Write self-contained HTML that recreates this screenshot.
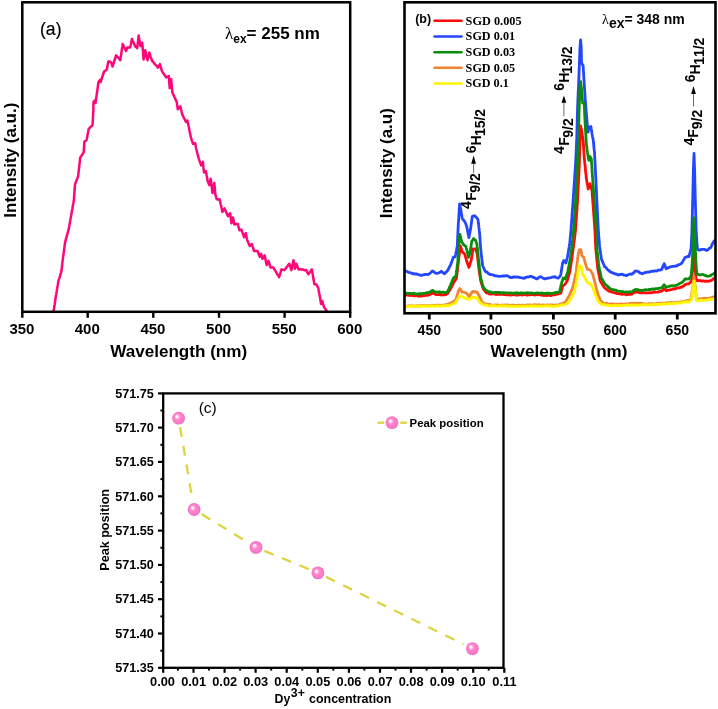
<!DOCTYPE html>
<html lang="en"><head><meta charset="utf-8"><title>Photoluminescence spectra</title>
<style>
html,body{margin:0;padding:0;background:#fff;}
body{width:718px;height:709px;overflow:hidden;}
svg{display:block;}
text{font-family:"Liberation Sans", sans-serif;fill:#000;}
.b{font-weight:bold;}
.nk{font-kerning:none;}
.serif{font-family:"Liberation Serif", serif;}
.ax{stroke:#000;fill:none;}
.crv{fill:none;stroke-linejoin:round;stroke-linecap:round;}
</style></head><body>
<svg width="718" height="709" viewBox="0 0 718 709">
<defs>
<radialGradient id="ball" cx="0.5" cy="0.5" r="0.5" fx="0.34" fy="0.34">
<stop offset="0" stop-color="#ffffff"/><stop offset="0.18" stop-color="#ffe9f6"/><stop offset="0.42" stop-color="#ff86cc"/><stop offset="0.8" stop-color="#fb7ac8"/><stop offset="1" stop-color="#e26cc0"/>
</radialGradient>
<clipPath id="clipA"><rect x="22.3" y="2.3" width="327.9" height="309.5"/></clipPath>
<clipPath id="clipB"><rect x="404.5" y="2.3" width="311" height="311"/></clipPath>
</defs>
<rect width="718" height="709" fill="#fff"/>
<g id="panelA">
<g clip-path="url(#clipA)"><polyline class="crv" stroke="#ff0579" stroke-width="2.5" points="53.6,311.6 53.8,310.2 54.0,308.7 54.2,307.3 54.4,305.9 54.7,304.5 54.9,303.0 55.1,301.6 55.3,300.2 55.5,298.7 55.7,297.3 55.9,295.8 56.2,294.4 56.4,292.9 56.7,291.4 56.9,289.9 57.2,288.5 57.4,287.0 57.7,285.5 57.9,284.0 58.2,282.6 58.4,281.1 58.8,279.7 59.3,278.3 59.7,276.9 60.1,275.6 60.5,274.2 61.0,272.8 61.4,271.4 61.6,270.0 61.7,268.6 61.9,267.2 62.0,265.8 62.2,264.4 62.3,263.0 62.5,261.6 62.7,260.1 62.9,258.6 63.1,257.1 63.3,255.6 63.5,254.1 63.7,252.6 63.9,251.2 64.1,249.7 64.3,248.2 64.5,246.7 64.7,245.2 64.9,243.7 65.1,242.2 65.5,240.8 65.9,239.3 66.3,237.9 66.7,236.4 67.1,235.0 67.5,233.5 67.9,232.1 68.3,230.6 68.7,229.2 69.0,227.7 69.2,226.3 69.5,224.8 69.8,223.3 70.0,221.8 70.3,220.4 70.5,218.9 70.8,217.4 71.1,215.9 71.3,214.5 71.6,213.0 71.9,211.6 72.1,210.1 72.4,208.7 72.6,207.2 72.9,205.8 73.1,204.3 73.4,202.9 73.6,201.4 73.9,200.0 74.0,198.6 74.1,197.2 74.2,195.8 74.3,194.4 74.4,193.0 74.5,191.6 74.6,190.2 74.7,188.8 74.8,187.4 74.9,186.0 75.0,184.6 75.5,183.2 76.0,181.8 76.5,180.4 77.1,179.0 77.6,177.6 78.1,176.2 78.3,174.8 78.4,173.4 78.6,172.0 78.7,170.5 78.9,169.1 79.1,167.7 79.2,166.3 79.4,164.9 79.6,163.5 79.7,162.0 79.9,160.6 80.0,159.2 80.2,157.8 81.1,156.4 82.0,155.0 82.8,153.6 83.7,152.2 83.8,150.7 83.9,149.2 84.0,147.7 84.1,146.1 84.2,144.6 84.3,143.1 84.4,141.6 86.5,140.2 86.8,138.8 87.0,137.4 87.3,136.0 87.6,134.6 87.9,133.1 88.2,131.7 88.4,130.3 88.7,128.9 90.0,127.6 91.2,126.3 92.5,125.4 92.6,123.9 92.7,122.4 92.8,120.9 92.9,119.4 92.9,118.0 93.0,116.5 93.1,115.0 93.2,113.5 93.3,112.0 93.3,110.5 93.4,109.1 93.4,107.6 93.4,106.2 93.4,104.7 93.5,103.3 93.5,101.8 94.9,100.4 95.5,103.0 95.7,101.6 95.9,100.2 96.1,98.8 96.3,97.4 96.5,96.0 96.7,94.6 96.9,93.2 97.1,91.8 97.3,90.4 97.5,89.0 97.7,87.6 97.9,86.2 98.1,84.8 98.3,83.4 98.5,82.0 99.9,80.0 100.6,82.0 101.1,80.5 101.6,79.0 102.1,77.5 102.6,76.0 103.1,74.5 103.6,73.0 104.1,71.5 105.5,70.6 106.9,69.4 107.2,67.8 107.5,66.3 107.7,64.7 108.0,63.2 108.3,61.6 109.8,61.6 111.2,62.3 111.7,63.7 112.1,65.1 112.6,66.5 113.0,65.1 113.5,63.7 113.9,62.3 114.3,60.9 114.8,59.5 115.2,58.1 115.7,56.7 116.1,55.3 117.1,56.6 118.2,57.6 119.2,58.6 120.3,60.2 120.5,58.7 120.7,57.3 121.0,55.8 121.2,54.3 121.4,52.8 121.6,51.4 121.8,49.9 122.0,48.4 122.3,46.9 122.5,45.5 122.7,44.0 123.4,45.4 124.0,46.8 124.7,48.2 125.3,49.6 126.0,51.0 126.7,49.2 127.4,47.5 130.2,47.5 130.5,46.1 130.8,44.7 131.1,43.2 131.3,41.8 131.6,40.4 131.9,39.0 132.5,40.4 133.2,41.8 133.8,43.3 134.5,44.7 135.1,46.1 136.1,47.2 137.2,48.2 137.4,46.8 137.5,45.4 137.7,44.0 137.9,42.6 138.0,41.1 138.2,39.7 138.4,38.3 138.5,36.9 138.7,35.5 138.9,37.0 139.2,38.5 139.4,40.0 139.7,41.6 139.9,43.1 140.2,44.6 140.4,46.1 141.3,44.4 142.2,42.6 142.3,44.0 142.4,45.4 142.5,46.8 142.7,48.2 142.8,49.6 142.9,51.0 143.0,52.5 143.1,53.9 143.2,55.3 143.4,56.7 143.5,58.1 143.6,59.5 143.9,58.0 144.2,56.4 144.4,54.9 144.7,53.4 145.0,51.8 145.3,50.3 145.6,51.7 145.9,53.1 146.2,54.5 146.6,56.0 146.9,57.4 147.2,58.8 147.5,60.2 147.8,58.6 148.2,57.1 148.5,55.5 148.9,54.0 149.2,52.4 149.7,53.8 150.2,55.2 150.6,56.6 151.1,58.1 151.6,59.5 152.1,60.9 153.1,61.7 154.2,63.4 155.4,64.7 156.6,65.8 157.8,67.6 158.9,65.8 159.9,64.1 160.3,65.5 160.7,66.9 161.2,68.4 161.6,69.8 162.0,71.2 162.8,72.5 163.7,73.7 164.5,75.0 165.4,76.2 166.2,77.5 167.5,76.4 168.8,76.1 168.9,77.6 169.0,79.1 169.1,80.6 169.2,82.1 169.4,83.6 169.5,85.1 169.6,86.6 169.7,88.1 169.9,86.6 170.2,85.0 170.4,83.5 170.7,82.0 170.9,80.4 171.2,78.9 171.3,80.4 171.4,81.9 171.6,83.4 171.7,84.9 171.8,86.3 171.9,87.8 172.1,89.3 172.2,90.8 172.3,92.3 172.9,93.7 173.6,95.1 174.2,96.5 174.9,98.0 175.5,99.4 176.2,100.8 176.8,102.2 177.0,103.6 177.2,105.0 177.4,106.4 177.6,107.8 177.8,109.2 179.1,107.7 180.3,106.4 180.7,107.8 181.0,109.2 181.4,110.7 181.7,112.1 182.1,113.5 182.4,114.9 183.1,116.3 183.8,117.7 184.6,119.1 185.3,120.5 186.0,121.9 187.4,120.5 187.7,121.9 188.0,123.3 188.3,124.7 188.6,126.1 188.9,127.5 189.2,128.9 189.4,130.4 189.7,131.8 190.0,133.2 190.3,134.6 190.6,136.0 190.9,137.4 191.4,139.0 191.9,140.6 192.5,142.2 193.0,143.8 195.1,143.1 195.4,144.5 195.7,145.9 195.9,147.2 196.2,148.6 196.5,150.0 196.9,151.4 197.2,152.8 197.6,154.2 198.0,155.5 198.4,156.9 198.7,158.3 199.1,159.7 199.6,161.1 200.1,162.6 200.7,164.0 201.2,165.4 202.1,163.7 202.9,161.9 203.1,163.4 203.2,164.9 203.4,166.4 203.5,167.9 203.7,169.4 203.8,170.9 204.0,172.4 205.9,171.0 206.1,172.4 206.4,173.8 206.6,175.2 206.9,176.7 207.1,178.1 207.4,179.5 207.6,180.9 208.2,182.3 208.7,183.7 209.3,185.1 209.7,183.5 210.0,181.9 210.3,180.4 210.7,178.8 210.9,180.2 211.1,181.6 211.2,183.0 211.4,184.4 211.6,185.9 211.8,187.3 212.0,188.7 212.1,190.1 212.3,191.5 212.5,192.9 212.8,191.5 213.0,190.1 213.3,188.7 213.5,187.2 213.8,185.8 214.0,184.4 214.3,183.0 214.4,184.4 214.6,185.8 214.7,187.2 214.8,188.7 214.9,190.1 215.1,191.5 215.2,192.9 215.3,194.3 215.8,195.9 216.2,197.6 216.7,199.2 218.1,199.5 219.6,199.2 219.9,200.6 220.2,202.0 220.5,203.4 220.8,204.8 221.2,206.3 221.5,207.7 221.8,209.1 222.1,210.5 222.4,211.9 223.4,210.2 224.5,208.4 225.1,209.7 225.7,211.0 226.2,212.3 226.8,213.6 227.4,214.9 228.0,216.2 229.1,214.8 230.1,213.3 230.3,214.7 230.5,216.1 230.7,217.5 230.9,219.0 231.1,220.4 231.3,221.8 231.5,223.2 231.9,221.8 232.2,220.4 232.6,219.0 233.0,217.6 233.3,219.0 233.6,220.4 233.8,221.8 234.1,223.2 234.4,224.6 236.2,223.9 237.9,223.9 238.2,225.5 238.6,227.1 239.0,228.7 239.3,230.3 241.4,229.6 242.0,231.1 242.5,232.7 243.1,234.2 243.6,235.8 244.2,237.3 244.8,235.9 245.3,234.5 245.9,233.1 246.1,234.5 246.4,235.9 246.6,237.2 246.9,238.6 247.1,240.0 247.7,241.2 248.4,242.8 249.1,244.5 249.8,246.1 250.9,244.8 251.9,244.0 252.3,245.4 252.7,246.8 253.2,248.2 253.6,249.6 254.0,251.0 255.8,251.1 257.6,251.0 258.1,252.4 258.6,253.8 259.2,255.3 259.7,256.7 260.4,255.3 261.1,253.9 261.6,255.5 262.0,257.2 262.5,258.8 263.6,257.1 264.6,255.3 264.9,256.7 265.2,258.1 265.5,259.5 265.8,260.9 266.1,262.3 266.4,263.7 266.7,265.1 267.3,263.7 268.0,262.3 268.6,260.9 269.0,262.5 269.5,264.0 269.9,265.6 270.3,267.2 271.7,267.6 273.1,267.2 274.0,268.6 274.9,270.0 275.7,271.5 276.6,272.9 277.4,274.3 278.3,275.7 279.1,277.1 279.6,275.6 280.1,274.0 280.5,272.5 281.0,270.9 281.5,269.4 282.9,269.8 284.4,270.1 285.3,268.9 286.3,267.7 287.2,266.5 288.2,265.1 289.3,263.7 289.8,265.3 290.4,266.9 290.9,268.5 291.4,270.1 291.7,268.7 292.0,267.3 292.3,265.9 292.6,264.4 292.9,263.0 293.2,261.6 293.5,260.2 293.7,261.6 294.0,263.0 294.2,264.4 294.4,265.9 294.7,267.3 294.9,268.7 295.4,267.0 295.9,265.4 296.4,263.7 296.9,265.1 297.4,266.5 298.0,268.0 298.5,269.4 300.6,269.3 302.7,269.4 304.4,270.2 306.2,270.1 306.9,271.5 307.6,272.9 308.3,274.3 309.2,273.1 310.1,271.9 311.0,270.6 311.9,269.4 312.1,270.9 312.4,272.4 312.6,273.8 312.9,275.3 313.1,276.8 313.4,278.3 313.6,279.8 313.9,281.2 314.1,282.7 314.4,284.2 316.1,284.2 317.1,285.9 318.2,287.7 318.5,289.1 318.7,290.5 319.0,291.9 319.2,293.4 319.5,294.8 319.8,296.2 320.0,297.6 320.3,299.0 320.5,300.6 320.8,302.3 321.0,303.9 321.7,302.5 322.4,301.1 322.8,302.5 323.1,304.0 323.5,305.4 323.9,306.8 324.8,308.2 325.8,309.6 326.7,311.0"/></g>
<rect class="ax" x="22.3" y="2.3" width="327.9" height="309.5" stroke-width="2.5"/>
<line class="ax" x1="22.3" y1="311.8" x2="22.3" y2="317.8" stroke-width="2.4"/>
<text class="b" x="21.9" y="334.3" font-size="15" text-anchor="middle">350</text>
<line class="ax" x1="87.7" y1="311.8" x2="87.7" y2="317.8" stroke-width="2.4"/>
<text class="b" x="87.3" y="334.3" font-size="15" text-anchor="middle">400</text>
<line class="ax" x1="153.3" y1="311.8" x2="153.3" y2="317.8" stroke-width="2.4"/>
<text class="b" x="152.9" y="334.3" font-size="15" text-anchor="middle">450</text>
<line class="ax" x1="219.0" y1="311.8" x2="219.0" y2="317.8" stroke-width="2.4"/>
<text class="b" x="218.6" y="334.3" font-size="15" text-anchor="middle">500</text>
<line class="ax" x1="284.6" y1="311.8" x2="284.6" y2="317.8" stroke-width="2.4"/>
<text class="b" x="284.2" y="334.3" font-size="15" text-anchor="middle">550</text>
<line class="ax" x1="350.2" y1="311.8" x2="350.2" y2="317.8" stroke-width="2.4"/>
<text class="b" x="349.8" y="334.3" font-size="15" text-anchor="middle">600</text>
<text class="b" x="178.7" y="357.2" font-size="17" text-anchor="middle" textLength="137" lengthAdjust="spacingAndGlyphs">Wavelength (nm)</text>
<text class="b" transform="translate(15.5,160.2) rotate(-90)" font-size="17" text-anchor="middle" textLength="115" lengthAdjust="spacingAndGlyphs">Intensity (a.u.)</text>
<text x="40" y="35.4" font-size="17.6" stroke="#000" stroke-width="0.15">(a)</text>
<text class="b" x="225.0" y="38.8" font-size="17"><tspan class="serif" font-weight="normal" font-size="17">λ</tspan><tspan font-size="12" dy="4">ex</tspan><tspan dy="-4">= 255 nm</tspan></text>
</g>
<g id="panelB">
<g clip-path="url(#clipB)">
<polyline class="crv" stroke="#ff0a0a" stroke-width="2.8" points="404.4,295.0 405.6,294.9 406.8,295.2 408.0,295.2 409.1,295.4 410.3,295.5 411.5,295.2 412.7,295.6 413.9,295.3 415.0,296.0 416.2,295.6 417.4,295.6 418.6,296.3 419.7,295.9 420.9,296.0 422.0,296.1 423.1,295.7 424.2,295.7 425.3,295.2 426.4,295.4 427.5,295.4 428.6,295.0 429.9,294.4 431.1,293.9 432.4,293.0 433.4,293.6 434.5,293.7 435.5,294.5 436.6,294.7 437.7,294.6 438.8,294.5 439.9,294.3 441.1,295.0 442.2,294.7 443.3,294.9 444.4,294.8 445.5,294.7 446.5,294.1 447.6,293.5 448.2,292.5 448.9,291.5 449.5,290.4 450.2,289.4 450.8,288.4 451.3,287.4 451.8,286.4 452.3,285.3 452.8,284.3 453.3,283.3 453.9,282.3 454.6,281.3 455.2,280.2 455.9,279.2 456.5,278.2 456.6,277.1 456.8,276.0 456.9,274.9 457.0,273.8 457.1,272.7 457.3,271.6 457.4,270.5 457.5,269.4 457.6,268.3 457.8,267.2 457.9,266.1 458.0,265.0 458.1,263.9 458.3,262.8 458.4,261.7 458.5,260.6 458.7,259.4 458.8,258.3 458.9,257.2 459.1,256.1 459.2,254.9 459.4,253.8 459.5,252.7 459.6,251.5 459.8,250.4 459.9,249.3 460.0,248.2 460.2,247.0 460.3,245.9 460.7,247.0 461.1,248.2 461.4,249.3 461.8,250.5 462.2,251.6 463.0,252.8 463.9,253.2 464.7,254.1 465.0,255.2 465.4,256.3 465.7,257.4 466.0,258.6 466.3,259.7 466.6,260.8 467.0,261.9 467.3,263.0 467.7,264.1 468.1,265.2 468.5,266.3 468.9,267.4 469.3,266.2 469.6,265.1 470.0,263.9 470.4,262.8 470.7,261.6 471.1,260.5 471.3,259.4 471.5,258.2 471.7,257.1 471.9,255.9 472.1,254.8 472.2,253.6 472.4,252.4 472.6,251.3 472.8,250.2 473.0,249.0 474.2,249.2 475.5,249.0 475.9,250.1 476.4,251.2 476.8,252.4 477.2,253.5 477.3,254.6 477.4,255.7 477.6,256.9 477.7,258.0 477.8,259.1 477.9,260.2 478.1,261.4 478.2,262.5 478.3,263.6 478.4,264.7 478.6,265.9 478.7,267.0 478.8,268.1 479.0,269.3 479.1,270.4 479.3,271.6 479.5,272.7 479.7,273.9 479.8,275.0 480.0,276.2 480.2,277.3 480.4,278.5 480.5,279.6 480.7,280.8 481.1,282.0 481.4,283.1 481.8,284.3 482.2,285.5 482.6,286.7 482.9,287.8 483.3,289.0 484.1,289.9 484.9,290.9 485.6,291.9 486.4,292.8 487.7,293.1 488.9,293.8 490.2,294.1 491.5,294.1 492.6,293.8 493.8,293.9 494.9,294.0 496.0,294.6 497.2,294.2 498.3,294.4 499.5,294.2 500.6,294.4 501.7,294.3 502.9,294.3 504.0,294.5 505.1,294.5 506.3,294.8 507.4,294.7 508.6,294.9 509.7,294.9 510.8,295.0 512.0,294.8 513.1,294.7 514.2,294.4 515.3,295.0 516.4,295.1 517.5,295.0 518.6,294.8 519.7,294.9 520.8,294.5 521.9,295.0 523.0,294.8 524.1,294.5 525.2,294.4 526.4,295.0 527.5,295.1 528.6,294.4 529.7,294.9 530.8,294.6 531.9,294.4 533.0,294.5 534.1,294.9 535.2,295.0 536.3,294.4 537.4,294.8 538.5,294.7 539.7,294.4 540.8,295.0 542.0,294.8 543.1,295.3 544.3,295.5 545.4,295.2 546.6,295.7 547.7,295.2 548.9,295.1 550.0,295.6 551.2,295.6 552.3,295.0 553.4,294.9 554.5,294.8 555.5,294.7 556.6,294.1 557.7,294.1 558.8,293.3 559.8,293.5 560.9,292.8 561.2,291.6 561.5,290.5 561.8,289.4 562.2,288.2 562.5,287.0 562.8,285.9 563.8,285.1 564.7,284.6 565.3,283.7 566.0,282.7 566.6,281.8 567.2,280.8 567.5,279.7 567.9,278.6 568.2,277.5 568.5,276.4 568.8,275.2 569.1,274.1 569.5,273.0 569.8,271.9 570.0,270.8 570.1,269.7 570.3,268.6 570.5,267.5 570.6,266.4 570.8,265.3 571.0,264.2 571.1,263.1 571.3,262.0 571.5,260.9 571.6,259.8 571.8,258.7 572.0,257.6 572.1,256.5 572.3,255.4 572.4,254.3 572.6,253.2 572.7,252.0 572.9,250.9 573.0,249.8 573.2,248.7 573.3,247.5 573.5,246.4 573.6,245.3 573.8,244.2 573.9,243.0 574.1,241.9 574.2,240.8 574.4,239.7 574.5,238.5 574.7,237.4 574.8,236.3 574.9,235.0 575.1,233.8 575.2,232.5 575.4,231.3 575.5,230.0 575.6,228.9 575.7,227.8 575.7,226.7 575.8,225.6 575.9,224.5 576.0,223.4 576.1,222.3 576.1,221.2 576.2,220.1 576.3,219.0 576.4,217.9 576.5,216.8 576.5,215.6 576.6,214.5 576.7,213.4 576.8,212.3 576.8,211.2 576.9,210.1 577.0,209.0 577.1,207.9 577.2,206.8 577.2,205.7 577.3,204.6 577.4,203.5 577.5,202.4 577.5,201.3 577.6,200.1 577.6,199.0 577.7,197.9 577.7,196.8 577.8,195.7 577.8,194.5 577.9,193.4 578.0,192.3 578.0,191.2 578.1,190.1 578.1,188.9 578.2,187.8 578.2,186.7 578.3,185.6 578.3,184.4 578.4,183.3 578.5,182.2 578.5,181.1 578.6,180.0 578.6,178.8 578.7,177.7 578.7,176.6 578.8,175.5 578.9,174.4 578.9,173.2 579.0,172.1 579.0,171.0 579.1,169.9 579.1,168.8 579.2,167.6 579.2,166.5 579.3,165.4 579.3,164.3 579.4,163.2 579.4,162.1 579.4,161.0 579.5,159.9 579.5,158.8 579.5,157.7 579.5,156.6 579.6,155.5 579.6,154.4 579.6,153.3 579.7,152.1 579.7,151.0 579.7,149.9 579.8,148.8 579.8,147.7 579.8,146.6 579.8,145.5 579.9,144.4 579.9,143.3 579.9,142.2 580.0,141.1 580.0,140.0 580.0,138.8 580.1,137.7 580.1,136.5 580.2,135.3 580.2,134.2 580.3,133.0 580.4,131.8 580.4,130.7 580.5,129.5 580.5,128.3 580.6,127.2 580.6,126.0 580.9,127.3 581.2,128.7 581.5,130.0 581.7,131.1 581.9,132.2 582.0,133.3 582.2,134.4 582.4,135.6 582.6,136.7 582.7,137.8 582.9,138.9 583.1,140.0 583.2,141.1 583.3,142.2 583.3,143.4 583.4,144.5 583.5,145.6 583.6,146.7 583.6,147.8 583.7,148.9 583.8,150.1 583.9,151.2 583.9,152.3 584.0,153.4 584.1,154.5 584.2,155.6 584.2,156.8 584.3,157.9 584.4,159.0 584.5,160.1 584.6,161.2 584.7,162.4 584.8,163.5 585.0,164.6 585.1,165.7 585.2,166.9 585.3,168.0 585.4,169.1 585.5,170.2 585.6,171.4 585.7,172.5 585.9,173.6 586.0,174.7 586.1,175.9 586.2,177.0 586.3,178.1 586.5,179.3 586.7,180.5 586.9,181.7 587.1,182.9 587.4,184.1 587.6,185.3 587.8,186.5 588.0,187.7 588.2,188.9 588.7,187.6 589.2,186.4 589.6,185.1 590.1,183.8 590.4,185.0 590.7,186.1 591.0,187.3 591.4,188.5 591.7,189.6 592.0,190.8 592.1,191.9 592.2,193.0 592.2,194.1 592.3,195.2 592.4,196.3 592.5,197.4 592.6,198.5 592.7,199.6 592.7,200.7 592.8,201.8 592.9,202.9 593.0,204.1 593.1,205.2 593.2,206.3 593.2,207.4 593.3,208.5 593.4,209.6 593.5,210.7 593.6,211.8 593.7,212.9 593.7,214.0 593.8,215.1 593.9,216.2 594.0,217.3 594.1,218.5 594.1,219.6 594.2,220.8 594.3,221.9 594.4,223.1 594.5,224.2 594.6,225.4 594.6,226.6 594.7,227.7 594.8,228.8 594.9,230.0 595.0,231.1 595.0,232.2 595.1,233.4 595.1,234.5 595.2,235.6 595.2,236.7 595.3,237.8 595.3,238.9 595.4,240.1 595.4,241.2 595.5,242.3 595.5,243.4 595.6,244.5 595.6,245.6 595.7,246.8 595.7,247.9 595.8,249.0 595.9,250.1 596.0,251.2 596.1,252.4 596.2,253.5 596.4,254.6 596.5,255.7 596.6,256.9 596.7,258.0 596.8,259.1 596.9,260.2 597.0,261.4 597.1,262.5 597.3,263.6 597.4,264.7 597.5,265.9 597.6,267.0 597.7,268.1 597.9,269.3 598.2,270.4 598.4,271.6 598.6,272.7 598.8,273.9 599.1,275.0 599.3,276.2 599.5,277.3 599.7,278.5 600.0,279.6 600.2,280.8 600.8,281.9 601.5,282.9 602.1,284.0 602.7,285.0 603.4,286.1 604.0,287.1 604.9,288.2 605.8,288.9 606.7,289.3 607.6,290.1 608.5,290.9 609.8,291.3 611.0,291.8 612.3,292.1 613.5,292.5 614.8,292.8 616.1,293.2 617.4,293.7 618.6,293.6 619.9,293.8 621.2,294.1 622.5,294.3 623.7,294.1 625.0,294.2 626.2,294.8 627.5,294.5 628.9,294.4 630.4,294.3 631.8,294.1 633.1,293.0 634.3,292.6 635.6,291.9 636.9,292.2 638.2,292.0 639.4,292.7 640.7,292.8 642.0,292.9 643.2,292.5 644.5,292.9 645.8,292.8 647.0,292.9 648.3,292.8 649.6,292.6 650.8,292.8 652.1,292.7 653.4,292.0 654.6,292.0 655.9,292.2 657.0,292.1 658.2,292.2 659.3,291.4 660.5,291.4 661.6,291.2 662.5,290.5 663.3,289.6 664.2,289.0 665.2,289.7 666.1,290.7 667.4,290.3 668.7,290.1 669.9,290.0 671.2,289.7 672.5,289.2 673.7,289.0 675.0,288.9 676.2,288.4 677.3,287.8 678.5,287.9 679.6,287.8 680.8,287.2 681.9,287.1 683.0,286.1 684.0,285.7 685.1,284.6 686.4,284.2 687.6,283.9 688.9,283.9 689.8,282.8 690.6,282.0 691.5,280.8 691.6,279.6 691.7,278.5 691.9,277.3 692.0,276.1 692.1,275.0 692.2,273.8 692.3,272.7 692.4,271.5 692.6,270.3 692.7,269.2 692.8,268.0 692.9,266.8 693.0,265.6 693.1,264.5 693.2,263.3 693.3,262.1 693.5,260.9 693.6,259.7 693.7,258.5 693.8,257.4 693.9,256.2 694.0,255.0 694.1,256.2 694.2,257.4 694.3,258.5 694.4,259.7 694.5,260.9 694.7,262.1 694.8,263.3 694.9,264.5 695.0,265.6 695.1,266.8 695.2,268.0 695.3,269.1 695.4,270.3 695.4,271.4 695.5,272.5 695.6,273.7 695.7,274.8 695.7,275.9 695.8,277.1 695.9,278.2 696.5,279.5 697.2,280.8 698.3,280.5 699.5,280.7 700.6,280.7 701.8,281.1 702.9,280.8 704.0,280.9 705.1,281.4 706.2,281.0 707.3,281.4 708.9,281.0 710.5,280.8 711.5,280.3 712.4,279.8 713.3,278.8 714.3,278.2 716.0,277.0"/>
<polyline class="crv" stroke="#2346ff" stroke-width="2.8" points="404.4,270.6 405.5,270.8 406.5,271.2 407.6,271.9 408.9,272.3 410.1,272.6 411.4,273.0 412.7,273.8 414.0,273.7 415.2,274.1 416.5,273.8 417.6,274.4 418.7,274.8 419.8,274.8 420.9,275.4 422.0,275.3 423.1,274.9 424.2,274.6 425.3,274.4 426.4,274.3 427.5,274.7 428.6,274.2 429.6,273.6 430.5,272.8 431.4,272.0 432.4,270.9 433.4,271.4 434.5,272.3 435.5,273.2 436.8,273.3 438.0,273.2 439.1,272.7 440.2,272.2 441.3,271.3 442.3,272.4 443.4,272.7 444.4,273.8 445.2,273.1 446.0,272.3 446.8,271.4 447.6,270.6 448.1,269.6 448.7,268.5 449.2,267.5 449.7,266.4 450.3,265.4 450.8,264.3 451.2,263.1 451.6,262.0 452.1,260.8 452.5,259.6 452.9,258.5 453.3,257.3 455.2,256.7 455.4,255.5 455.7,254.3 455.9,253.1 456.1,251.9 456.4,250.8 456.6,249.6 456.8,248.4 457.1,247.2 457.3,246.0 457.4,244.8 457.4,243.7 457.5,242.5 457.5,241.4 457.6,240.2 457.6,239.1 457.7,237.9 457.7,236.8 457.8,235.6 457.8,234.5 457.9,233.3 457.9,232.2 458.0,231.0 458.0,229.9 458.1,228.7 458.1,227.6 458.2,226.4 458.3,225.3 458.3,224.2 458.4,223.0 458.5,221.9 458.6,220.8 458.6,219.7 458.7,218.5 458.8,217.4 458.8,216.3 458.9,215.2 459.0,214.0 459.0,212.9 459.1,211.8 459.2,210.7 459.2,209.5 459.3,208.4 459.4,207.3 459.5,206.2 459.5,205.0 459.6,203.9 459.8,205.0 460.1,206.1 460.3,207.2 460.5,208.4 460.8,209.5 461.0,210.6 461.2,211.7 461.3,212.9 461.5,214.0 461.7,215.1 461.9,216.2 462.0,217.4 462.2,218.5 462.9,219.3 463.6,220.2 464.3,221.1 465.0,221.9 465.4,223.0 465.9,224.2 466.3,225.3 466.7,226.4 466.9,227.5 467.1,228.7 467.4,229.8 467.6,230.9 467.8,232.1 468.0,233.2 468.2,234.3 468.5,235.4 468.7,236.6 468.9,237.7 469.1,236.6 469.3,235.4 469.5,234.3 469.8,233.2 470.0,232.1 470.2,230.9 470.4,229.8 470.6,228.7 470.8,227.6 470.9,226.4 471.1,225.3 471.2,224.2 471.4,223.1 471.5,221.9 471.7,220.8 471.8,219.7 472.0,218.6 472.1,217.4 472.3,216.3 473.7,215.9 475.1,216.0 475.8,216.9 476.6,217.8 477.3,218.7 478.0,219.6 478.1,220.7 478.3,221.9 478.4,223.0 478.5,224.1 478.7,225.3 478.8,226.4 478.9,227.5 479.1,228.7 479.2,229.8 479.3,230.9 479.5,232.1 479.6,233.2 479.7,234.3 479.8,235.5 479.8,236.6 479.9,237.7 480.0,238.8 480.1,240.0 480.1,241.1 480.2,242.2 480.3,243.4 480.4,244.5 480.5,245.6 480.5,246.7 480.6,247.9 480.7,249.0 480.8,250.1 481.0,251.2 481.1,252.3 481.2,253.4 481.3,254.5 481.5,255.6 481.6,256.7 481.7,257.8 481.8,258.9 482.0,260.0 482.1,261.1 482.2,262.2 482.3,263.3 482.5,264.4 482.6,265.5 483.1,266.7 483.6,267.8 484.2,269.0 484.7,270.1 485.2,271.3 486.1,271.9 487.1,272.2 488.1,273.5 489.0,273.8 490.2,274.5 491.5,274.6 492.8,274.8 494.0,275.4 495.3,275.9 496.6,275.8 497.8,276.2 499.1,276.4 500.4,276.3 501.7,276.2 502.9,276.0 504.2,276.0 505.4,275.8 506.7,275.7 508.0,276.1 509.2,276.8 510.5,277.6 511.8,277.7 513.1,277.0 514.3,276.9 515.6,277.2 516.9,277.0 518.2,277.1 519.4,277.5 520.7,277.7 521.9,277.8 523.2,278.2 524.3,278.3 525.4,277.4 526.5,277.3 527.6,276.9 528.7,276.9 529.8,276.4 530.9,276.3 532.0,276.6 533.0,277.4 534.0,277.5 535.1,278.1 536.2,278.8 537.2,278.9 538.3,277.9 539.3,277.1 540.4,276.7 541.5,277.0 542.6,278.0 543.7,278.4 544.8,278.9 546.1,278.4 547.4,278.3 548.6,277.9 549.9,277.8 551.2,277.6 552.5,277.0 553.7,277.1 555.0,276.7 556.0,277.5 557.1,278.0 558.1,278.2 559.0,277.3 559.8,276.5 560.7,275.1 560.9,274.0 561.0,272.9 561.2,271.8 561.4,270.7 561.6,269.6 561.7,268.5 561.9,267.4 562.1,266.3 562.3,265.2 562.4,264.1 562.6,263.0 563.2,261.8 563.9,260.5 564.9,261.8 565.9,263.0 566.2,261.9 566.4,260.8 566.7,259.7 567.0,258.7 567.3,257.6 567.5,256.5 567.8,255.4 568.0,254.2 568.2,253.1 568.3,251.9 568.5,250.8 568.7,249.6 568.9,248.5 569.1,247.3 569.3,246.2 569.4,245.0 569.6,243.9 569.8,242.7 569.9,241.5 570.0,240.4 570.1,239.2 570.2,238.1 570.3,236.9 570.5,235.8 570.6,234.6 570.7,233.5 570.8,232.3 570.9,231.2 571.0,230.0 571.1,228.9 571.2,227.8 571.2,226.7 571.3,225.6 571.4,224.5 571.5,223.4 571.6,222.3 571.6,221.2 571.7,220.1 571.8,219.0 571.9,217.9 572.0,216.8 572.0,215.6 572.1,214.5 572.2,213.4 572.3,212.3 572.3,211.2 572.4,210.1 572.5,209.0 572.6,207.9 572.7,206.8 572.7,205.7 572.8,204.6 572.9,203.5 573.0,202.4 573.1,201.3 573.1,200.1 573.2,199.0 573.3,197.9 573.4,196.8 573.4,195.7 573.5,194.5 573.6,193.4 573.7,192.3 573.7,191.2 573.8,190.1 573.9,188.9 574.0,187.8 574.0,186.7 574.1,185.6 574.2,184.4 574.3,183.3 574.4,182.2 574.4,181.1 574.5,180.0 574.6,178.8 574.7,177.7 574.7,176.6 574.8,175.5 574.9,174.4 575.0,173.2 575.0,172.1 575.1,171.0 575.2,169.9 575.3,168.8 575.3,167.6 575.4,166.5 575.5,165.4 575.6,164.3 575.6,163.2 575.7,162.1 575.7,161.0 575.8,159.9 575.8,158.8 575.9,157.7 575.9,156.6 576.0,155.5 576.0,154.4 576.1,153.3 576.1,152.1 576.2,151.0 576.2,149.9 576.3,148.8 576.3,147.7 576.4,146.6 576.4,145.5 576.5,144.4 576.5,143.3 576.6,142.2 576.6,141.1 576.7,140.0 576.7,138.9 576.8,137.8 576.8,136.7 576.8,135.6 576.9,134.4 576.9,133.3 576.9,132.2 576.9,131.1 577.0,130.0 577.0,128.9 577.0,127.8 577.1,126.7 577.1,125.5 577.1,124.4 577.2,123.3 577.2,122.2 577.2,121.1 577.3,120.0 577.3,118.9 577.3,117.8 577.3,116.7 577.4,115.5 577.4,114.4 577.4,113.3 577.5,112.2 577.5,111.1 577.5,110.0 577.6,108.9 577.6,107.8 577.6,106.7 577.7,105.6 577.7,104.5 577.8,103.4 577.8,102.3 577.8,101.2 577.9,100.1 577.9,99.0 578.0,97.8 578.0,96.7 578.1,95.5 578.1,94.3 578.2,93.2 578.2,92.0 578.3,90.8 578.4,89.7 578.4,88.5 578.5,87.3 578.5,86.2 578.6,85.0 578.6,83.9 578.7,82.8 578.7,81.7 578.8,80.5 578.8,79.4 578.9,78.3 578.9,77.2 578.9,76.1 579.0,75.0 579.0,73.8 579.1,72.7 579.1,71.6 579.1,70.5 579.2,69.4 579.2,68.3 579.3,67.1 579.3,66.0 579.4,64.9 579.4,63.8 579.4,62.7 579.5,61.5 579.5,60.4 579.6,59.3 579.6,58.2 579.6,57.0 579.7,55.9 579.7,54.8 579.8,53.7 579.8,52.5 579.8,51.4 579.9,50.3 579.9,49.2 580.0,48.0 580.0,46.9 580.1,45.7 580.2,44.6 580.3,43.4 580.4,42.2 580.5,41.1 580.6,39.9 580.7,41.1 580.8,42.2 580.9,43.4 581.0,44.6 581.1,45.7 581.2,46.9 581.2,48.0 581.2,49.1 581.3,50.2 581.3,51.4 581.3,52.5 581.3,53.6 581.4,54.7 581.4,55.8 581.4,56.9 581.4,58.0 581.4,59.2 581.5,60.3 581.5,61.4 581.5,62.5 582.0,63.6 582.6,64.7 583.1,65.8 583.2,67.0 583.3,68.3 583.3,69.5 583.4,70.8 583.5,72.0 583.6,73.2 583.6,74.4 583.7,75.5 583.8,76.7 583.9,77.9 583.9,79.1 584.0,80.3 584.1,81.5 584.2,82.6 584.2,83.8 584.3,85.0 584.4,86.2 584.4,87.3 584.5,88.5 584.6,89.7 584.7,90.8 584.8,92.0 584.8,93.2 584.9,94.3 585.0,95.5 585.1,96.7 585.1,97.8 585.2,99.0 585.3,100.2 585.4,101.3 585.5,102.5 585.6,103.7 585.7,104.8 585.8,106.0 585.8,107.2 585.9,108.3 586.0,109.5 586.1,110.7 586.2,111.8 586.3,113.0 586.4,114.1 586.5,115.3 586.6,116.4 586.7,117.5 586.8,118.6 586.9,119.8 587.0,120.9 587.1,122.0 587.2,123.2 587.3,124.3 587.4,125.4 587.5,126.6 587.6,127.7 587.7,128.8 587.8,129.9 587.9,131.1 588.0,132.2 588.3,131.0 588.5,129.8 588.8,128.5 589.1,127.3 590.9,126.5 591.1,127.6 591.2,128.7 591.4,129.8 591.6,130.9 591.8,132.1 591.9,133.2 592.1,134.3 592.3,135.4 592.5,136.6 592.8,137.7 593.0,138.8 593.2,140.0 593.3,141.2 593.4,142.3 593.6,143.5 593.7,144.6 593.8,145.8 593.9,146.9 594.0,148.1 594.1,149.2 594.3,150.4 594.4,151.5 594.5,152.7 594.6,153.8 594.6,154.9 594.7,156.0 594.7,157.1 594.8,158.2 594.8,159.3 594.9,160.4 595.0,161.5 595.0,162.6 595.1,163.7 595.1,164.8 595.2,166.0 595.2,167.1 595.3,168.2 595.3,169.3 595.4,170.4 595.5,171.5 595.5,172.6 595.6,173.7 595.6,174.8 595.7,175.9 595.7,177.0 595.8,178.1 595.9,179.2 595.9,180.3 596.0,181.4 596.0,182.5 596.1,183.6 596.1,184.7 596.2,185.8 596.2,186.9 596.3,188.0 596.3,189.1 596.4,190.2 596.4,191.4 596.5,192.5 596.5,193.6 596.6,194.7 596.6,195.8 596.7,196.9 596.7,198.0 596.8,199.1 596.8,200.2 596.9,201.3 596.9,202.4 597.0,203.5 597.1,204.6 597.1,205.7 597.2,206.8 597.2,207.9 597.3,209.0 597.3,210.1 597.4,211.2 597.4,212.3 597.5,213.4 597.5,214.5 597.6,215.6 597.6,216.8 597.7,217.9 597.8,219.0 597.8,220.1 597.9,221.2 597.9,222.3 598.0,223.4 598.0,224.5 598.1,225.6 598.1,226.7 598.2,227.8 598.2,228.9 598.3,230.0 598.4,231.1 598.5,232.2 598.6,233.3 598.6,234.4 598.7,235.5 598.8,236.6 598.9,237.7 599.0,238.8 599.1,239.9 599.2,241.0 599.3,242.1 599.3,243.2 599.4,244.3 599.5,245.4 599.6,246.5 599.8,247.7 599.9,248.8 600.1,250.0 600.3,251.1 600.5,252.3 600.6,253.4 600.8,254.6 601.0,255.7 601.2,256.9 601.3,258.0 601.5,259.2 602.0,260.3 602.4,261.4 602.9,262.5 603.3,263.5 603.8,264.6 604.2,265.7 604.7,266.8 605.5,267.2 606.4,268.1 607.2,269.4 608.0,270.0 608.9,270.5 609.7,271.3 610.7,272.1 611.7,272.4 612.8,273.0 613.8,273.1 614.8,273.8 616.1,274.0 617.3,274.6 618.6,275.1 619.9,274.5 621.1,274.4 622.4,274.2 623.7,275.1 624.9,275.1 626.2,275.7 628.0,274.7 629.3,274.2 630.5,274.2 631.8,274.4 632.8,273.3 633.7,272.9 634.6,271.7 635.6,270.9 636.7,271.1 637.7,271.3 638.8,271.9 639.9,272.9 640.9,273.1 642.0,273.8 643.3,273.2 644.5,272.8 645.8,272.4 647.0,272.2 648.3,272.1 649.6,272.0 650.8,271.4 652.1,271.2 653.4,271.3 654.6,270.9 655.9,270.9 657.0,271.0 658.2,270.1 659.3,270.1 660.5,270.1 661.6,269.6 662.1,268.4 662.6,267.2 663.2,266.0 663.7,264.8 664.2,263.6 664.7,264.9 665.2,266.1 665.6,267.4 666.1,268.7 667.4,268.0 668.6,267.8 669.9,266.8 671.2,266.7 672.4,266.4 673.7,266.4 674.9,266.0 676.2,266.2 677.3,265.5 678.5,264.7 679.6,264.6 680.8,263.9 681.9,263.0 682.5,261.9 683.2,260.7 683.8,259.6 684.5,258.4 685.1,257.3 686.4,257.1 687.6,256.5 688.9,256.7 689.2,255.6 689.5,254.5 689.8,253.4 690.1,252.3 690.4,251.2 690.7,250.1 691.0,249.0 691.1,247.8 691.1,246.7 691.2,245.5 691.3,244.3 691.3,243.2 691.4,242.0 691.5,240.8 691.5,239.7 691.6,238.5 691.7,237.3 691.7,236.2 691.8,235.0 691.8,233.9 691.9,232.7 691.9,231.6 691.9,230.5 691.9,229.4 692.0,228.2 692.0,227.1 692.0,226.0 692.1,224.8 692.1,223.7 692.1,222.6 692.1,221.5 692.2,220.3 692.2,219.2 692.2,218.1 692.3,216.9 692.3,215.8 692.3,214.7 692.4,213.5 692.4,212.4 692.4,211.3 692.4,210.2 692.5,209.0 692.5,207.9 692.5,206.8 692.6,205.6 692.6,204.5 692.6,203.4 692.6,202.3 692.7,201.1 692.7,200.0 692.7,198.9 692.8,197.8 692.8,196.7 692.8,195.6 692.8,194.4 692.9,193.3 692.9,192.2 692.9,191.1 692.9,190.0 693.0,188.9 693.0,187.8 693.0,186.7 693.0,185.6 693.1,184.4 693.1,183.3 693.1,182.2 693.1,181.1 693.2,180.0 693.2,178.9 693.2,177.8 693.2,176.7 693.3,175.6 693.3,174.4 693.3,173.3 693.3,172.2 693.4,171.1 693.4,170.0 693.4,168.9 693.5,167.8 693.5,166.7 693.6,165.6 693.6,164.5 693.6,163.4 693.7,162.3 693.7,161.2 693.8,160.1 693.8,159.0 693.8,157.9 693.9,156.8 693.9,155.7 694.0,154.6 694.0,153.5 694.0,154.6 694.1,155.7 694.1,156.8 694.2,157.9 694.2,159.0 694.2,160.1 694.3,161.2 694.3,162.3 694.4,163.4 694.4,164.5 694.4,165.6 694.5,166.7 694.5,167.8 694.6,168.9 694.6,170.0 694.6,171.1 694.7,172.2 694.7,173.3 694.7,174.4 694.7,175.6 694.8,176.7 694.8,177.8 694.8,178.9 694.8,180.0 694.9,181.1 694.9,182.2 694.9,183.3 694.9,184.4 695.0,185.6 695.0,186.7 695.0,187.8 695.0,188.9 695.1,190.0 695.1,191.1 695.1,192.2 695.1,193.3 695.2,194.4 695.2,195.6 695.2,196.7 695.2,197.8 695.3,198.9 695.3,200.0 695.3,201.1 695.4,202.2 695.4,203.3 695.4,204.4 695.5,205.5 695.5,206.6 695.5,207.7 695.5,208.8 695.6,209.9 695.6,211.0 695.6,212.1 695.7,213.2 695.7,214.3 695.7,215.4 695.8,216.6 695.8,217.7 695.8,218.8 695.9,219.9 695.9,221.0 695.9,222.1 696.0,223.2 696.0,224.3 696.0,225.4 696.0,226.5 696.1,227.6 696.1,228.7 696.1,229.8 696.2,230.9 696.2,232.0 696.3,233.1 696.4,234.3 696.4,235.4 696.5,236.5 696.6,237.7 696.7,238.8 696.8,239.9 696.8,241.1 696.9,242.2 697.0,243.3 697.1,244.5 697.2,245.6 697.2,246.7 697.3,247.9 697.4,249.0 699.1,250.3 700.4,249.8 701.6,249.4 702.9,249.3 704.0,249.3 705.1,249.6 706.2,250.3 707.3,250.3 708.4,249.2 709.4,248.3 710.5,247.8 711.0,246.8 711.5,245.8 712.0,244.7 712.5,243.7 713.0,242.7 713.6,241.8 714.3,240.8 716.0,239.5"/>
<polyline class="crv" stroke="#0b8c0b" stroke-width="2.8" points="404.4,292.8 405.6,293.0 406.8,293.2 408.0,293.3 409.1,293.5 410.3,293.5 411.5,293.7 412.7,293.5 413.9,293.2 415.0,293.6 416.2,294.0 417.4,293.8 418.6,294.0 419.7,293.5 420.9,293.8 422.0,293.6 423.1,293.3 424.2,293.4 425.3,293.3 426.4,292.7 427.5,292.7 428.6,292.8 429.6,292.0 430.5,291.9 431.4,291.1 432.4,290.3 433.4,290.7 434.5,291.8 435.5,292.2 436.6,292.0 437.7,292.4 438.8,292.0 439.9,292.0 441.1,292.7 442.2,292.2 443.3,292.2 444.4,292.5 445.5,292.6 446.5,292.2 447.6,291.6 448.1,290.4 448.7,289.3 449.2,288.1 449.7,286.9 450.3,285.8 450.8,284.6 451.2,283.5 451.6,282.5 452.1,281.4 452.5,280.3 452.9,279.3 453.3,278.2 454.2,277.2 455.0,276.9 455.9,275.7 456.1,274.5 456.2,273.4 456.4,272.2 456.5,271.0 456.7,269.9 456.9,268.7 457.0,267.5 457.2,266.4 457.3,265.2 457.5,264.0 457.6,262.9 457.8,261.7 457.9,260.6 457.9,259.5 458.0,258.3 458.1,257.2 458.2,256.1 458.2,255.0 458.3,253.9 458.4,252.8 458.4,251.6 458.5,250.5 458.6,249.4 458.6,248.3 458.7,247.2 458.8,246.1 458.9,244.9 458.9,243.8 459.0,242.7 459.1,241.5 459.3,240.3 459.4,239.1 459.5,238.0 459.6,236.8 459.8,235.6 459.9,234.4 460.2,235.6 460.5,236.7 460.8,237.9 461.0,239.1 461.3,240.2 461.6,241.4 462.2,242.5 462.9,243.5 463.5,244.6 464.8,245.6 466.0,246.5 466.2,247.6 466.5,248.7 466.8,249.7 467.0,250.8 467.2,251.9 467.5,253.0 467.8,254.1 468.0,255.1 468.2,256.2 468.5,257.3 468.8,256.1 469.2,255.0 469.5,253.8 469.8,252.6 470.2,251.5 470.5,250.3 470.6,249.2 470.8,248.1 470.9,247.0 471.1,245.9 471.2,244.7 471.4,243.6 471.6,242.5 471.7,241.4 472.3,240.5 473.0,239.5 473.6,238.6 474.6,239.5 475.5,240.2 476.0,241.5 476.4,242.7 476.9,244.0 477.0,245.1 477.1,246.2 477.3,247.3 477.4,248.4 477.5,249.5 477.6,250.6 477.7,251.7 477.9,252.8 478.0,254.0 478.1,255.1 478.2,256.2 478.3,257.3 478.4,258.4 478.6,259.5 478.7,260.6 478.8,261.7 478.9,262.8 479.1,263.9 479.2,265.0 479.3,266.1 479.4,267.2 479.6,268.3 479.7,269.4 479.8,270.5 479.9,271.6 480.1,272.7 480.2,273.8 480.3,274.9 480.4,276.0 480.6,277.1 480.7,278.2 481.0,279.3 481.4,280.4 481.7,281.5 482.0,282.6 482.3,283.8 482.6,284.9 483.0,286.0 483.3,287.1 484.1,288.1 484.9,289.0 485.6,289.9 486.4,290.9 487.7,291.0 488.9,291.9 490.2,292.0 491.5,292.2 492.6,292.6 493.7,292.6 494.8,292.3 495.9,292.4 497.1,292.3 498.2,292.4 499.3,292.4 500.4,292.8 501.6,292.7 502.7,292.9 503.9,292.5 505.0,293.0 506.2,292.8 507.3,292.8 508.5,293.2 509.6,293.0 510.8,292.9 511.9,293.1 513.1,293.1 514.3,293.3 515.4,292.8 516.6,293.5 517.7,292.7 518.9,293.3 520.0,293.4 521.2,292.7 522.3,293.3 523.5,293.0 524.6,293.2 525.8,293.1 527.0,292.7 528.1,292.8 529.3,292.9 530.4,293.4 531.6,292.9 532.7,293.3 533.9,293.4 535.0,293.4 536.2,293.0 537.3,293.0 538.5,293.1 539.7,293.2 540.8,293.4 542.0,292.9 543.1,293.4 544.3,293.5 545.4,293.6 546.6,293.0 547.7,293.7 548.9,293.1 550.0,293.3 551.2,293.5 552.5,293.3 553.7,293.3 555.0,292.6 556.2,292.5 557.3,292.5 558.5,291.9 559.6,291.6 559.9,290.5 560.1,289.5 560.4,288.4 560.6,287.3 560.9,286.2 561.1,285.1 561.4,284.1 561.6,283.0 562.0,281.8 562.4,280.5 562.8,279.2 563.2,278.0 564.2,278.4 565.2,279.0 565.6,277.8 566.1,276.6 566.5,275.4 566.9,274.3 567.4,273.1 567.8,271.9 568.0,270.7 568.2,269.6 568.4,268.4 568.7,267.2 568.9,266.1 569.1,264.9 569.3,263.7 569.5,262.6 569.8,261.4 570.0,260.2 570.2,259.1 570.4,257.9 570.5,256.7 570.7,255.6 570.8,254.4 571.0,253.2 571.1,252.1 571.3,250.9 571.4,249.7 571.6,248.5 571.7,247.4 571.9,246.2 572.0,245.0 572.2,243.9 572.3,242.7 572.4,241.5 572.5,240.4 572.7,239.2 572.8,238.1 572.9,236.9 573.0,235.8 573.1,234.6 573.2,233.5 573.4,232.3 573.5,231.2 573.6,230.0 573.7,228.9 573.8,227.8 573.8,226.7 573.9,225.6 574.0,224.5 574.1,223.4 574.2,222.3 574.2,221.2 574.3,220.1 574.4,219.0 574.5,217.9 574.5,216.8 574.6,215.6 574.7,214.5 574.8,213.4 574.9,212.3 574.9,211.2 575.0,210.1 575.1,209.0 575.2,207.9 575.3,206.8 575.3,205.7 575.4,204.6 575.5,203.5 575.6,202.4 575.6,201.3 575.7,200.1 575.7,199.0 575.8,197.9 575.8,196.8 575.9,195.7 575.9,194.5 576.0,193.4 576.1,192.3 576.1,191.2 576.2,190.1 576.2,188.9 576.3,187.8 576.3,186.7 576.4,185.6 576.5,184.4 576.5,183.3 576.6,182.2 576.6,181.1 576.7,180.0 576.7,178.8 576.8,177.7 576.8,176.6 576.9,175.5 577.0,174.4 577.0,173.2 577.1,172.1 577.1,171.0 577.2,169.9 577.2,168.8 577.3,167.6 577.3,166.5 577.4,165.4 577.4,164.3 577.5,163.2 577.5,162.1 577.6,161.0 577.6,159.9 577.6,158.8 577.7,157.7 577.7,156.6 577.8,155.5 577.8,154.4 577.8,153.3 577.9,152.1 577.9,151.0 577.9,149.9 578.0,148.8 578.0,147.7 578.1,146.6 578.1,145.5 578.1,144.4 578.2,143.3 578.2,142.2 578.3,141.1 578.3,140.0 578.3,138.9 578.4,137.8 578.4,136.7 578.4,135.6 578.5,134.4 578.5,133.3 578.5,132.2 578.5,131.1 578.6,130.0 578.6,128.9 578.6,127.8 578.7,126.7 578.7,125.5 578.7,124.4 578.8,123.3 578.8,122.2 578.8,121.1 578.9,120.0 578.9,118.9 578.9,117.8 578.9,116.7 579.0,115.5 579.0,114.4 579.0,113.3 579.1,112.2 579.1,111.1 579.1,110.0 579.2,108.9 579.2,107.8 579.2,106.7 579.3,105.6 579.3,104.5 579.4,103.4 579.4,102.3 579.4,101.2 579.5,100.1 579.5,98.9 579.5,97.8 579.6,96.7 579.6,95.6 579.6,94.5 579.7,93.4 579.7,92.3 579.8,91.2 579.8,90.1 579.8,89.0 579.9,87.9 579.9,86.8 580.1,85.5 580.2,84.2 580.4,82.9 580.6,81.6 580.8,82.9 580.9,84.2 581.1,85.4 581.2,86.7 581.4,88.0 581.5,89.2 581.6,90.3 581.7,91.5 581.8,92.6 581.9,93.8 582.0,94.9 582.1,96.0 582.2,97.2 582.3,98.3 582.3,99.4 582.4,100.5 582.5,101.7 582.6,102.8 584.3,103.8 584.3,104.9 584.4,106.0 584.4,107.1 584.5,108.2 584.5,109.3 584.6,110.4 584.6,111.5 584.6,112.6 584.7,113.7 584.7,114.8 584.8,115.9 584.8,117.0 584.9,118.1 584.9,119.2 585.0,120.3 585.0,121.4 585.1,122.5 585.2,123.6 585.2,124.7 585.3,125.8 585.3,126.9 585.4,128.0 585.5,129.1 585.5,130.2 585.6,131.3 585.7,132.5 585.7,133.6 585.8,134.7 585.9,135.8 585.9,136.9 586.0,138.0 586.0,139.1 586.1,140.2 586.2,141.3 586.2,142.4 586.3,143.5 586.4,144.7 586.6,145.8 586.8,146.9 586.9,148.1 587.0,149.2 587.2,150.4 587.4,151.5 587.5,152.7 587.7,153.8 587.9,154.9 588.1,156.0 588.2,157.0 588.4,158.1 588.6,159.2 588.8,160.3 589.2,159.0 589.7,157.8 590.1,156.5 590.7,157.8 591.3,159.0 591.4,160.1 591.5,161.2 591.5,162.4 591.6,163.5 591.7,164.6 591.8,165.7 591.8,166.9 591.9,168.0 592.0,169.1 592.1,170.2 592.1,171.4 592.2,172.5 592.3,173.6 592.4,174.7 592.4,175.9 592.5,177.0 592.6,178.1 592.7,179.2 592.8,180.3 592.8,181.4 592.9,182.5 593.0,183.6 593.1,184.7 593.2,185.8 593.3,186.9 593.3,188.0 593.4,189.1 593.5,190.2 593.6,191.4 593.7,192.5 593.8,193.6 593.8,194.7 593.9,195.8 594.0,196.9 594.1,198.0 594.2,199.1 594.3,200.2 594.3,201.3 594.4,202.4 594.5,203.5 594.6,204.6 594.7,205.7 594.7,206.8 594.8,207.9 594.9,209.0 595.0,210.1 595.1,211.2 595.1,212.3 595.2,213.4 595.3,214.5 595.4,215.6 595.5,216.8 595.5,217.9 595.6,219.0 595.7,220.1 595.8,221.2 595.8,222.3 595.9,223.4 596.0,224.5 596.1,225.6 596.2,226.7 596.2,227.8 596.3,228.9 596.4,230.0 596.4,231.1 596.5,232.2 596.5,233.4 596.5,234.5 596.6,235.6 596.6,236.7 596.6,237.8 596.7,238.9 596.7,240.1 596.8,241.2 596.8,242.3 596.8,243.4 596.9,244.5 596.9,245.6 596.9,246.8 597.0,247.9 597.0,249.0 597.1,250.1 597.2,251.2 597.4,252.3 597.5,253.4 597.6,254.6 597.7,255.7 597.8,256.8 598.0,257.9 598.1,259.0 598.2,260.1 598.3,261.2 598.4,262.4 598.5,263.5 598.7,264.6 598.8,265.7 598.9,266.8 599.2,267.9 599.4,269.1 599.7,270.2 599.9,271.4 600.2,272.5 600.5,273.6 600.7,274.8 601.0,275.9 601.2,277.1 601.5,278.2 602.1,279.3 602.8,280.3 603.4,281.4 604.0,282.5 604.7,283.5 605.3,284.6 606.2,285.2 607.1,285.9 607.9,286.6 608.8,287.4 609.7,288.4 611.0,289.0 612.2,289.7 613.5,289.6 614.8,290.3 616.1,290.2 617.4,291.2 618.6,291.1 619.9,291.3 621.2,291.6 622.5,291.5 623.7,291.9 625.0,292.2 626.2,292.0 627.5,292.2 628.9,292.0 630.4,291.7 631.8,291.9 632.8,291.6 633.7,290.3 634.6,290.0 635.6,289.4 636.9,289.9 638.2,289.6 639.4,290.3 640.7,290.3 642.0,290.5 643.2,290.2 644.5,290.2 645.8,289.6 647.0,289.8 648.3,289.7 649.6,289.3 650.8,289.6 652.1,289.0 653.4,288.9 654.6,289.2 655.9,288.6 657.0,288.7 658.2,288.6 659.3,288.1 660.5,288.0 661.6,287.8 662.5,287.0 663.3,285.8 664.2,284.8 665.2,286.1 666.1,287.4 667.4,286.9 668.7,286.6 669.9,286.0 671.2,285.9 672.5,285.6 673.7,285.9 675.0,285.7 676.2,285.2 677.3,284.8 678.5,284.2 679.6,283.6 680.8,282.9 681.9,282.7 682.7,281.6 683.5,281.0 684.3,280.1 685.1,278.9 686.4,278.8 687.6,279.1 688.9,278.9 689.6,277.9 690.3,277.0 691.0,276.0 691.1,274.9 691.3,273.7 691.4,272.6 691.5,271.4 691.6,270.3 691.8,269.1 691.9,268.0 692.0,266.9 692.0,265.7 692.1,264.6 692.2,263.4 692.2,262.3 692.3,261.1 692.3,260.0 692.4,258.8 692.5,257.7 692.5,256.5 692.6,255.4 692.6,254.3 692.7,253.1 692.7,252.0 692.7,250.9 692.8,249.7 692.8,248.6 692.8,247.5 692.9,246.3 692.9,245.2 692.9,244.1 693.0,242.9 693.0,241.8 693.0,240.7 693.1,239.5 693.1,238.4 693.1,237.3 693.2,236.1 693.2,235.0 693.3,233.9 693.3,232.7 693.4,231.6 693.4,230.4 693.5,229.3 693.5,228.1 693.6,227.0 693.6,225.8 693.7,224.7 693.7,223.5 693.8,222.4 693.8,221.2 693.9,220.1 693.9,218.9 694.0,217.8 694.1,218.9 694.1,220.1 694.2,221.2 694.2,222.4 694.3,223.5 694.3,224.7 694.4,225.8 694.4,227.0 694.5,228.1 694.5,229.3 694.6,230.4 694.6,231.6 694.7,232.7 694.7,233.9 694.8,235.0 694.8,236.2 694.9,237.3 694.9,238.4 695.0,239.6 695.0,240.8 695.1,241.9 695.1,243.1 695.2,244.2 695.2,245.3 695.2,246.5 695.3,247.7 695.3,248.8 695.4,249.9 695.4,251.1 695.5,252.2 695.5,253.4 695.6,254.6 695.6,255.7 695.7,256.9 695.7,258.0 695.8,259.2 695.8,260.4 695.9,261.6 696.0,262.8 696.0,264.0 696.1,265.2 696.2,266.4 696.3,267.6 696.3,268.8 696.4,270.0 696.7,271.4 696.9,272.8 697.2,274.2 699.1,274.7 700.4,274.8 701.6,274.6 702.9,274.4 704.0,275.0 705.1,275.5 706.2,275.7 707.3,276.3 708.9,276.2 710.5,275.7 711.5,274.9 712.4,274.4 713.3,274.0 714.3,273.2 716.0,272.0"/>
<polyline class="crv" stroke="#f08432" stroke-width="2.8" points="404.4,306.1 405.5,306.3 406.6,306.3 407.7,306.0 408.8,305.8 410.0,305.6 411.1,306.1 412.2,305.9 413.3,306.1 414.4,305.8 415.5,306.1 416.6,305.7 417.7,306.0 418.8,305.9 420.0,305.7 421.1,305.8 422.2,305.8 423.3,305.4 424.4,305.7 425.5,305.9 426.6,305.4 427.7,305.8 428.8,305.7 430.0,305.8 431.1,305.4 432.2,305.2 433.3,305.7 434.4,305.7 435.5,305.4 436.6,305.1 437.7,305.1 438.8,305.4 440.0,305.1 441.1,305.6 442.2,305.3 443.3,305.0 444.4,305.2 445.5,305.0 446.5,304.4 447.6,304.4 448.7,304.0 449.7,303.4 450.8,303.0 451.8,302.5 452.8,301.9 453.9,301.3 454.9,300.8 455.9,299.8 456.2,298.7 456.5,297.6 456.8,296.5 457.1,295.4 457.5,294.2 457.8,293.1 458.1,292.0 458.4,290.9 459.1,289.8 459.9,288.6 460.7,289.8 461.4,291.0 462.2,292.2 463.5,292.0 464.7,292.5 466.0,292.8 466.8,293.8 467.6,294.6 468.4,295.7 469.2,296.6 469.8,295.6 470.5,294.6 471.1,293.6 471.8,292.6 472.4,291.6 473.5,291.4 474.6,292.0 475.7,291.8 476.8,291.9 477.4,292.9 478.1,293.9 478.7,295.0 479.3,296.0 479.7,297.1 480.2,298.1 480.6,299.1 481.0,300.2 481.5,301.2 481.9,302.3 483.0,302.6 484.1,303.5 485.2,303.8 486.3,304.5 487.4,304.4 488.5,304.7 489.6,304.5 490.7,304.7 491.8,305.3 492.9,305.3 494.0,305.2 495.1,304.8 496.3,305.4 497.4,304.8 498.5,305.1 499.7,305.5 500.8,305.3 501.9,305.0 503.1,305.1 504.2,305.1 505.4,304.9 506.5,305.5 507.6,304.8 508.8,305.1 509.9,305.3 511.0,305.1 512.2,305.5 513.3,304.9 514.4,305.5 515.6,305.4 516.7,305.3 517.8,305.4 519.0,305.1 520.1,305.4 521.3,305.3 522.4,305.1 523.5,305.1 524.7,305.3 525.8,305.1 526.9,305.0 528.1,304.8 529.2,305.3 530.3,304.9 531.4,305.1 532.6,305.3 533.7,304.9 534.8,304.7 535.9,304.8 537.1,305.2 538.2,305.0 539.3,304.9 540.4,305.1 541.6,305.4 542.7,304.9 543.8,305.0 544.9,305.4 546.1,305.2 547.2,304.9 548.3,305.1 549.4,305.1 550.6,304.8 551.7,305.0 552.8,305.0 553.9,305.3 555.1,305.0 556.2,305.1 557.5,304.9 558.7,304.9 560.0,304.2 561.5,303.6 562.8,303.5 564.0,302.6 565.3,302.3 565.9,301.2 566.6,300.2 567.2,299.1 567.8,298.1 568.5,297.1 569.1,296.0 569.6,294.9 570.0,293.8 570.5,292.7 571.0,291.6 571.5,290.4 572.0,289.3 572.4,288.2 572.9,287.1 573.1,286.0 573.4,284.9 573.6,283.8 573.8,282.8 574.0,281.7 574.3,280.6 574.5,279.5 574.7,278.4 575.0,277.3 575.2,276.2 575.4,275.2 575.6,274.1 575.9,273.0 576.1,271.9 576.2,270.8 576.4,269.7 576.5,268.6 576.6,267.5 576.7,266.4 576.9,265.3 577.0,264.2 577.1,263.1 577.2,262.0 577.4,260.9 577.5,259.8 577.6,258.7 577.7,257.6 577.9,256.5 578.0,255.4 578.3,254.3 578.5,253.1 578.8,252.0 579.0,250.8 579.3,249.7 580.9,249.7 581.1,250.8 581.3,252.0 581.4,253.1 581.6,254.3 581.8,255.4 582.8,256.4 583.7,257.3 584.0,258.5 584.3,259.6 584.7,260.8 585.0,262.0 585.3,263.1 585.6,264.3 586.1,265.6 586.5,266.8 587.0,268.1 587.5,269.3 588.6,269.6 589.6,270.1 590.7,270.6 591.3,271.7 592.0,272.7 592.6,273.8 592.9,275.0 593.2,276.2 593.5,277.4 593.9,278.6 594.2,279.7 594.5,280.9 594.8,282.1 595.1,283.3 595.4,284.4 595.7,285.6 596.0,286.7 596.3,287.8 596.5,289.0 596.8,290.1 597.1,291.2 597.4,292.4 597.7,293.5 598.1,294.6 598.5,295.8 599.0,297.0 599.4,298.1 599.8,299.2 600.2,300.4 601.3,301.3 602.3,302.4 603.4,303.0 604.7,303.6 606.0,303.4 607.2,303.5 608.5,304.2 609.7,304.2 610.8,303.9 612.0,303.8 613.1,304.4 614.3,303.9 615.4,304.4 616.6,304.1 617.7,304.5 618.9,304.5 620.0,303.9 621.2,304.2 622.3,303.9 623.4,304.4 624.5,304.1 625.6,303.8 626.7,304.0 627.8,304.0 629.0,303.7 630.1,303.6 631.2,303.2 632.3,303.3 633.4,303.1 634.5,303.4 635.6,303.2 636.8,303.4 637.9,303.1 639.1,303.5 640.2,303.2 641.4,303.3 642.5,303.7 643.7,303.7 644.8,304.1 646.0,304.0 647.1,304.1 648.3,304.0 649.5,303.6 650.6,304.1 651.8,303.5 653.0,303.8 654.1,303.9 655.3,303.8 656.5,303.8 657.7,303.3 658.8,303.5 660.0,303.5 661.2,302.9 662.3,303.4 663.5,303.0 664.7,303.3 665.9,302.8 667.0,303.1 668.2,302.7 669.4,302.6 670.6,302.8 671.7,302.3 672.9,302.8 674.1,302.9 675.3,302.3 676.4,302.7 677.6,302.0 678.8,302.3 679.9,302.4 681.0,301.8 682.1,302.1 683.1,301.5 684.2,301.7 685.3,300.8 686.4,301.0 687.5,300.4 688.6,300.6 689.7,300.2 690.8,299.8 691.0,298.6 691.1,297.5 691.3,296.3 691.5,295.2 691.7,294.0 691.8,292.9 692.0,291.7 692.2,290.6 692.4,289.4 692.5,288.3 692.7,287.1 692.8,286.0 693.0,284.9 693.1,283.7 693.3,282.6 693.4,281.5 693.6,280.4 693.7,279.2 693.9,278.1 694.0,277.0 694.1,278.1 694.3,279.2 694.4,280.4 694.6,281.5 694.7,282.6 694.9,283.7 695.0,284.9 695.2,286.0 695.3,287.1 695.4,288.3 695.5,289.4 695.6,290.6 695.7,291.7 695.8,292.9 696.0,294.0 696.1,295.2 696.2,296.3 696.3,297.5 696.4,298.6 696.5,299.8 697.8,299.6 699.1,298.9 700.3,298.8 701.6,298.7 702.9,298.5 704.2,298.1 705.4,298.7 706.7,298.4 708.0,298.4 709.2,298.2 710.5,297.9 711.8,297.5 713.0,297.0 714.3,297.0 716.0,296.6"/>
<polyline class="crv" stroke="#fff500" stroke-width="2.8" points="404.4,306.4 405.5,306.6 406.6,306.6 407.7,306.3 408.8,306.2 410.0,306.0 411.1,306.4 412.2,306.3 413.3,306.5 414.4,306.2 415.5,306.5 416.6,306.1 417.7,306.5 418.8,306.4 420.0,306.1 421.1,306.2 422.2,306.3 423.3,305.9 424.4,306.2 425.5,306.4 426.6,305.9 427.7,306.3 428.8,306.2 430.0,306.3 431.1,305.9 432.2,305.7 433.3,306.3 434.4,306.3 435.5,306.0 436.6,305.7 437.7,305.8 438.8,306.1 440.0,305.8 441.1,306.3 442.2,306.0 443.3,305.7 444.4,305.9 445.7,305.8 447.0,305.4 448.2,305.6 449.5,305.4 450.8,304.9 451.8,304.4 452.8,304.0 453.9,303.6 454.9,303.1 455.9,302.4 456.5,301.2 457.1,300.1 457.8,298.9 458.4,297.8 459.0,296.6 460.9,296.0 462.2,297.0 463.4,296.9 464.7,297.9 465.8,298.2 466.9,298.8 468.1,299.0 469.2,299.6 470.1,299.0 471.1,298.0 472.1,297.9 473.0,297.0 474.3,297.3 475.5,297.3 476.8,297.9 477.4,298.8 478.1,299.7 478.7,300.6 479.4,301.5 480.0,302.4 480.9,303.2 481.9,303.6 482.9,304.2 483.8,305.1 485.0,305.2 486.3,305.1 487.5,305.4 488.8,306.0 490.0,305.9 491.1,306.1 492.2,305.5 493.4,306.1 494.5,305.6 495.6,305.8 496.7,306.3 497.8,306.1 498.9,305.8 500.1,305.9 501.2,305.9 502.3,305.7 503.4,306.4 504.5,305.7 505.7,306.0 506.8,306.2 507.9,306.0 509.0,306.4 510.1,305.9 511.3,306.4 512.4,306.4 513.5,306.2 514.6,306.4 515.7,306.1 516.8,306.4 518.0,306.4 519.1,306.2 520.2,306.1 521.3,306.3 522.4,306.1 523.6,305.9 524.7,306.4 525.8,306.2 526.9,306.0 528.0,306.2 529.1,306.4 530.2,305.9 531.3,305.8 532.4,305.9 533.5,306.2 534.6,306.0 535.7,305.9 536.8,306.1 537.9,306.4 539.0,305.9 540.1,306.0 541.2,306.3 542.3,306.1 543.4,305.9 544.5,306.0 545.6,306.0 546.7,305.7 547.8,305.9 548.9,305.8 550.0,306.2 551.1,305.8 552.2,306.1 553.3,306.3 554.4,306.3 555.5,305.8 556.6,306.0 557.7,305.8 558.8,305.9 559.9,305.5 561.0,305.2 562.1,304.9 563.4,304.8 564.7,304.6 565.9,303.8 567.2,303.6 568.0,302.5 568.8,301.4 569.6,300.3 570.4,299.2 570.9,298.2 571.5,297.2 572.0,296.2 572.6,295.2 573.1,294.2 573.7,293.2 574.2,292.2 574.5,291.1 574.7,289.9 575.0,288.8 575.2,287.6 575.5,286.5 575.7,285.4 576.0,284.2 576.2,283.1 576.5,281.9 576.7,280.8 576.9,279.6 577.0,278.5 577.2,277.3 577.4,276.2 577.6,275.0 577.7,273.9 577.9,272.7 578.1,271.6 578.3,270.4 578.4,269.3 578.6,268.1 579.0,266.8 579.5,265.5 581.2,266.8 581.4,268.1 581.7,269.4 581.9,270.6 582.2,271.9 582.4,273.2 582.9,274.2 583.5,275.3 584.0,276.4 584.5,277.4 585.1,278.4 585.6,279.5 586.2,280.4 586.9,281.4 587.6,282.4 588.2,283.3 590.1,283.3 590.7,284.3 591.3,285.3 592.0,286.4 592.6,287.4 593.2,288.4 593.6,289.5 593.9,290.6 594.3,291.7 594.7,292.7 595.1,293.8 595.4,294.9 595.8,296.0 596.3,297.1 596.8,298.1 597.3,299.2 597.9,300.3 598.4,301.3 598.9,302.4 600.0,302.8 601.0,303.8 602.1,304.6 603.4,304.4 604.7,304.6 605.9,305.3 607.2,305.0 608.5,305.5 609.7,305.7 610.8,305.4 612.0,305.8 613.1,305.8 614.3,305.2 615.4,305.3 616.6,305.8 617.7,305.6 618.9,305.4 620.0,305.7 621.2,305.5 622.3,305.7 623.5,305.4 624.6,305.4 625.8,305.1 626.9,305.2 628.1,305.0 629.2,305.3 630.4,305.3 631.5,304.9 632.7,305.2 633.8,304.8 635.0,304.8 636.1,305.2 637.3,305.0 638.4,305.3 639.6,305.0 640.7,304.9 641.8,305.0 642.9,304.5 644.1,305.0 645.2,304.4 646.3,304.8 647.4,305.0 648.5,305.0 649.6,304.9 650.8,304.5 651.9,304.7 653.0,304.7 654.1,304.2 655.2,304.8 656.3,304.7 657.5,304.3 658.6,304.5 659.7,304.3 660.8,304.2 661.9,304.0 663.1,304.2 664.2,303.7 665.3,304.1 666.4,304.2 667.6,303.6 668.7,304.0 669.8,303.3 670.9,303.8 672.1,303.3 673.2,303.7 674.3,303.3 675.4,303.6 676.6,302.8 677.7,302.8 678.8,303.0 679.9,303.1 681.0,302.8 682.2,302.6 683.3,302.1 684.4,302.0 685.5,302.0 686.7,301.6 687.8,302.2 688.9,301.7 690.2,301.0 691.5,299.8 691.6,298.7 691.8,297.6 691.9,296.4 692.0,295.3 692.2,294.2 692.3,293.1 692.4,291.9 692.6,290.8 692.7,289.7 692.9,288.6 693.0,287.5 693.2,286.4 693.4,285.2 693.5,284.1 693.7,283.0 693.8,281.9 694.0,280.8 694.2,281.9 694.3,283.0 694.5,284.1 694.6,285.2 694.8,286.4 695.0,287.5 695.1,288.6 695.3,289.7 695.4,290.9 695.6,292.1 695.7,293.3 695.8,294.5 696.0,295.6 696.1,296.8 696.2,298.0 696.4,299.2 696.5,300.4 697.6,300.7 698.7,300.6 699.8,300.3 700.9,300.1 702.0,300.6 703.1,300.1 704.2,300.4 705.3,300.3 706.4,300.1 707.6,300.0 708.7,299.5 709.8,299.4 710.9,299.6 712.1,299.1 713.2,299.4 714.3,299.2 716.0,299.0"/>
</g>
<rect class="ax" x="404.5" y="2.3" width="311.0" height="311.0" stroke-width="2.6"/>
<line class="ax" x1="429.3" y1="313.3" x2="429.3" y2="319.5" stroke-width="2.8"/>
<text class="b" x="429.3" y="334.8" font-size="14" text-anchor="middle">450</text>
<line class="ax" x1="490.9" y1="313.3" x2="490.9" y2="319.5" stroke-width="2.8"/>
<text class="b" x="490.9" y="334.8" font-size="14" text-anchor="middle">500</text>
<line class="ax" x1="553.4" y1="313.3" x2="553.4" y2="319.5" stroke-width="2.8"/>
<text class="b" x="553.4" y="334.8" font-size="14" text-anchor="middle">550</text>
<line class="ax" x1="615.2" y1="313.3" x2="615.2" y2="319.5" stroke-width="2.8"/>
<text class="b" x="615.2" y="334.8" font-size="14" text-anchor="middle">600</text>
<line class="ax" x1="677.3" y1="313.3" x2="677.3" y2="319.5" stroke-width="2.8"/>
<text class="b" x="677.3" y="334.8" font-size="14" text-anchor="middle">650</text>
<text class="b" x="559.0" y="356.6" font-size="17" text-anchor="middle" textLength="137" lengthAdjust="spacingAndGlyphs">Wavelength (nm)</text>
<text class="b" transform="translate(392.1,163.2) rotate(-90)" font-size="17" text-anchor="middle" textLength="110" lengthAdjust="spacingAndGlyphs">Intensity (a.u)</text>
<text class="b" x="415.2" y="23.2" font-size="12.5">(b)</text>
<line x1="434.5" y1="20.8" x2="461.5" y2="20.8" stroke="#ff0a0a" stroke-width="2.5" stroke-linecap="round"/>
<text class="b serif" x="465.6" y="24.6" font-size="12.4" textLength="56" lengthAdjust="spacingAndGlyphs">SGD 0.005</text>
<line x1="434.5" y1="36.5" x2="461.5" y2="36.5" stroke="#2346ff" stroke-width="2.5" stroke-linecap="round"/>
<text class="b serif" x="465.6" y="40.3" font-size="12.4" textLength="49.5" lengthAdjust="spacingAndGlyphs">SGD 0.01</text>
<line x1="434.5" y1="52.2" x2="461.5" y2="52.2" stroke="#0b8c0b" stroke-width="2.5" stroke-linecap="round"/>
<text class="b serif" x="465.6" y="56.0" font-size="12.4" textLength="49.5" lengthAdjust="spacingAndGlyphs">SGD 0.03</text>
<line x1="434.5" y1="67.8" x2="461.5" y2="67.8" stroke="#f08432" stroke-width="2.5" stroke-linecap="round"/>
<text class="b serif" x="465.6" y="71.6" font-size="12.4" textLength="49.5" lengthAdjust="spacingAndGlyphs">SGD 0.05</text>
<line x1="434.5" y1="83.5" x2="461.5" y2="83.5" stroke="#fff500" stroke-width="2.5" stroke-linecap="round"/>
<text class="b serif" x="465.6" y="87.3" font-size="12.4" textLength="43.2" lengthAdjust="spacingAndGlyphs">SGD 0.1</text>
<text class="b" x="602.1" y="23.6" font-size="14"><tspan class="serif" font-weight="normal" font-size="14">λ</tspan><tspan font-size="14" dy="4">ex</tspan><tspan dy="-4">= 348 nm</tspan></text>
<text class="b nk" transform="translate(471.35,208.90) rotate(-90)" font-size="14">4</text>
<text class="b nk" transform="translate(476.35,200.70) rotate(-90)" font-size="14">F</text>
<text class="b nk" transform="translate(479.60,192.80) rotate(-90)" font-size="14">9/2</text>
<text class="b nk" transform="translate(476.30,153.30) rotate(-90)" font-size="14">6</text>
<text class="b nk" transform="translate(481.05,145.60) rotate(-90)" font-size="14">H</text>
<text class="b nk" transform="translate(484.70,136.10) rotate(-90)" font-size="14">15/2</text>
<line x1="473.6" y1="173.4" x2="473.6" y2="162.8" stroke="#444" stroke-width="0.8"/><polygon points="473.6,155.5 471.20000000000005,163.8 476.0,163.8" fill="#000"/>
<text class="b nk" transform="translate(564.35,153.90) rotate(-90)" font-size="14">4</text>
<text class="b nk" transform="translate(568.95,145.70) rotate(-90)" font-size="14">F</text>
<text class="b nk" transform="translate(572.80,137.80) rotate(-90)" font-size="14">9/2</text>
<text class="b nk" transform="translate(563.80,90.80) rotate(-90)" font-size="14">6</text>
<text class="b nk" transform="translate(568.75,82.70) rotate(-90)" font-size="14">H</text>
<text class="b nk" transform="translate(572.10,73.65) rotate(-90)" font-size="14">13/2</text>
<line x1="563.9" y1="116.2" x2="563.9" y2="101.8" stroke="#444" stroke-width="0.8"/><polygon points="563.9,95.6 561.5,102.8 566.3,102.8" fill="#000"/>
<text class="b nk" transform="translate(693.75,145.40) rotate(-90)" font-size="14">4</text>
<text class="b nk" transform="translate(698.35,137.70) rotate(-90)" font-size="14">F</text>
<text class="b nk" transform="translate(701.80,129.20) rotate(-90)" font-size="14">9/2</text>
<text class="b nk" transform="translate(694.60,82.20) rotate(-90)" font-size="14">6</text>
<text class="b nk" transform="translate(700.05,74.50) rotate(-90)" font-size="14">H</text>
<text class="b nk" transform="translate(703.55,64.85) rotate(-90)" font-size="14">11/2</text>
<line x1="693.5" y1="106.5" x2="693.5" y2="93.0" stroke="#444" stroke-width="0.8"/><polygon points="693.5,86.0 691.1,94.0 695.9,94.0" fill="#000"/>
</g>
<g id="panelC">
<line x1="178.6" y1="418.2" x2="192.4" y2="499.6" stroke="#dcd442" stroke-width="2.3" stroke-dasharray="10 9" stroke-dashoffset="-9"/>
<line x1="194.1" y1="509.5" x2="247.5" y2="542.2" stroke="#dcd442" stroke-width="2.3" stroke-dasharray="10 9" stroke-dashoffset="-9"/>
<line x1="256.0" y1="547.4" x2="308.7" y2="569.1" stroke="#dcd442" stroke-width="2.3" stroke-dasharray="10 9" stroke-dashoffset="-9"/>
<line x1="317.9" y1="572.9" x2="463.4" y2="644.2" stroke="#dcd442" stroke-width="2.3" stroke-dasharray="10 9" stroke-dashoffset="-9"/>
<circle cx="178.6" cy="418.2" r="6.4" fill="url(#ball)"/>
<circle cx="194.1" cy="509.5" r="6.4" fill="url(#ball)"/>
<circle cx="256.0" cy="547.4" r="6.4" fill="url(#ball)"/>
<circle cx="317.9" cy="572.9" r="6.4" fill="url(#ball)"/>
<circle cx="472.4" cy="648.6" r="6.4" fill="url(#ball)"/>
<rect class="ax" x="163.2" y="393.4" width="340.3" height="274.4" stroke-width="2.3"/>
<line class="ax" x1="163.2" y1="667.8" x2="163.2" y2="672.8" stroke-width="2.2"/>
<text class="b" x="162.5" y="686.3" font-size="12.8" text-anchor="middle">0.00</text>
<line class="ax" x1="177.9" y1="667.8" x2="177.9" y2="670.6" stroke-width="2"/>
<line class="ax" x1="193.5" y1="667.8" x2="193.5" y2="672.8" stroke-width="2.2"/>
<text class="b" x="193.6" y="686.3" font-size="12.8" text-anchor="middle">0.01</text>
<line class="ax" x1="209.0" y1="667.8" x2="209.0" y2="670.6" stroke-width="2"/>
<line class="ax" x1="224.6" y1="667.8" x2="224.6" y2="672.8" stroke-width="2.2"/>
<text class="b" x="224.7" y="686.3" font-size="12.8" text-anchor="middle">0.02</text>
<line class="ax" x1="240.1" y1="667.8" x2="240.1" y2="670.6" stroke-width="2"/>
<line class="ax" x1="255.6" y1="667.8" x2="255.6" y2="672.8" stroke-width="2.2"/>
<text class="b" x="255.7" y="686.3" font-size="12.8" text-anchor="middle">0.03</text>
<line class="ax" x1="271.2" y1="667.8" x2="271.2" y2="670.6" stroke-width="2"/>
<line class="ax" x1="286.7" y1="667.8" x2="286.7" y2="672.8" stroke-width="2.2"/>
<text class="b" x="286.8" y="686.3" font-size="12.8" text-anchor="middle">0.04</text>
<line class="ax" x1="302.3" y1="667.8" x2="302.3" y2="670.6" stroke-width="2"/>
<line class="ax" x1="317.8" y1="667.8" x2="317.8" y2="672.8" stroke-width="2.2"/>
<text class="b" x="317.9" y="686.3" font-size="12.8" text-anchor="middle">0.05</text>
<line class="ax" x1="333.3" y1="667.8" x2="333.3" y2="670.6" stroke-width="2"/>
<line class="ax" x1="348.9" y1="667.8" x2="348.9" y2="672.8" stroke-width="2.2"/>
<text class="b" x="349.0" y="686.3" font-size="12.8" text-anchor="middle">0.06</text>
<line class="ax" x1="364.4" y1="667.8" x2="364.4" y2="670.6" stroke-width="2"/>
<line class="ax" x1="380.0" y1="667.8" x2="380.0" y2="672.8" stroke-width="2.2"/>
<text class="b" x="380.1" y="686.3" font-size="12.8" text-anchor="middle">0.07</text>
<line class="ax" x1="395.5" y1="667.8" x2="395.5" y2="670.6" stroke-width="2"/>
<line class="ax" x1="411.0" y1="667.8" x2="411.0" y2="672.8" stroke-width="2.2"/>
<text class="b" x="411.1" y="686.3" font-size="12.8" text-anchor="middle">0.08</text>
<line class="ax" x1="426.6" y1="667.8" x2="426.6" y2="670.6" stroke-width="2"/>
<line class="ax" x1="442.1" y1="667.8" x2="442.1" y2="672.8" stroke-width="2.2"/>
<text class="b" x="442.2" y="686.3" font-size="12.8" text-anchor="middle">0.09</text>
<line class="ax" x1="457.7" y1="667.8" x2="457.7" y2="670.6" stroke-width="2"/>
<line class="ax" x1="473.2" y1="667.8" x2="473.2" y2="672.8" stroke-width="2.2"/>
<text class="b" x="473.3" y="686.3" font-size="12.8" text-anchor="middle">0.10</text>
<line class="ax" x1="488.7" y1="667.8" x2="488.7" y2="670.6" stroke-width="2"/>
<line class="ax" x1="504.3" y1="667.8" x2="504.3" y2="672.8" stroke-width="2.2"/>
<text class="b" x="504.4" y="686.3" font-size="12.8" text-anchor="middle">0.11</text>
<line class="ax" x1="163.2" y1="393.4" x2="158.0" y2="393.4" stroke-width="2.2"/>
<text class="b" x="153.8" y="397.5" font-size="12.5" text-anchor="end" textLength="38.6" lengthAdjust="spacingAndGlyphs">571.75</text>
<line class="ax" x1="163.2" y1="410.5" x2="160.4" y2="410.5" stroke-width="2"/>
<line class="ax" x1="163.2" y1="427.6" x2="158.0" y2="427.6" stroke-width="2.2"/>
<text class="b" x="153.8" y="431.8" font-size="12.5" text-anchor="end" textLength="38.6" lengthAdjust="spacingAndGlyphs">571.70</text>
<line class="ax" x1="163.2" y1="444.8" x2="160.4" y2="444.8" stroke-width="2"/>
<line class="ax" x1="163.2" y1="461.9" x2="158.0" y2="461.9" stroke-width="2.2"/>
<text class="b" x="153.8" y="466.1" font-size="12.5" text-anchor="end" textLength="38.6" lengthAdjust="spacingAndGlyphs">571.65</text>
<line class="ax" x1="163.2" y1="479.1" x2="160.4" y2="479.1" stroke-width="2"/>
<line class="ax" x1="163.2" y1="496.3" x2="158.0" y2="496.3" stroke-width="2.2"/>
<text class="b" x="153.8" y="500.5" font-size="12.5" text-anchor="end" textLength="38.6" lengthAdjust="spacingAndGlyphs">571.60</text>
<line class="ax" x1="163.2" y1="513.4" x2="160.4" y2="513.4" stroke-width="2"/>
<line class="ax" x1="163.2" y1="530.6" x2="158.0" y2="530.6" stroke-width="2.2"/>
<text class="b" x="153.8" y="534.8" font-size="12.5" text-anchor="end" textLength="38.6" lengthAdjust="spacingAndGlyphs">571.55</text>
<line class="ax" x1="163.2" y1="547.7" x2="160.4" y2="547.7" stroke-width="2"/>
<line class="ax" x1="163.2" y1="564.9" x2="158.0" y2="564.9" stroke-width="2.2"/>
<text class="b" x="153.8" y="569.1" font-size="12.5" text-anchor="end" textLength="38.6" lengthAdjust="spacingAndGlyphs">571.50</text>
<line class="ax" x1="163.2" y1="582.1" x2="160.4" y2="582.1" stroke-width="2"/>
<line class="ax" x1="163.2" y1="599.2" x2="158.0" y2="599.2" stroke-width="2.2"/>
<text class="b" x="153.8" y="603.4" font-size="12.5" text-anchor="end" textLength="38.6" lengthAdjust="spacingAndGlyphs">571.45</text>
<line class="ax" x1="163.2" y1="616.4" x2="160.4" y2="616.4" stroke-width="2"/>
<line class="ax" x1="163.2" y1="633.5" x2="158.0" y2="633.5" stroke-width="2.2"/>
<text class="b" x="153.8" y="637.7" font-size="12.5" text-anchor="end" textLength="38.6" lengthAdjust="spacingAndGlyphs">571.40</text>
<line class="ax" x1="163.2" y1="650.7" x2="160.4" y2="650.7" stroke-width="2"/>
<line class="ax" x1="163.2" y1="667.8" x2="158.0" y2="667.8" stroke-width="2.2"/>
<text class="b" x="153.8" y="672.1" font-size="12.5" text-anchor="end" textLength="38.6" lengthAdjust="spacingAndGlyphs">571.35</text>
<text x="198.7" y="413.2" font-size="15.5">(c)</text>
<line x1="377.5" y1="422.7" x2="384.2" y2="422.7" stroke="#ddd540" stroke-width="2.3"/>
<line x1="400.2" y1="422.7" x2="407" y2="422.7" stroke="#ddd540" stroke-width="2.3"/>
<circle cx="392" cy="422.7" r="6.4" fill="url(#ball)"/>
<text class="b" x="409.6" y="427" font-size="11.5" textLength="74" lengthAdjust="spacingAndGlyphs">Peak position</text>
<text class="b" transform="translate(109.1,529.8) rotate(-90)" font-size="12.5" text-anchor="middle" textLength="81.7" lengthAdjust="spacingAndGlyphs">Peak position</text>
<text class="b" x="274.6" y="703.4" font-size="12.3">Dy</text>
<text class="b" x="290.8" y="696.5" font-size="12.3">3+</text>
<text class="b" x="309.0" y="703.4" font-size="12.5" textLength="82.3" lengthAdjust="spacingAndGlyphs">concentration</text>
</g>
</svg></body></html>
